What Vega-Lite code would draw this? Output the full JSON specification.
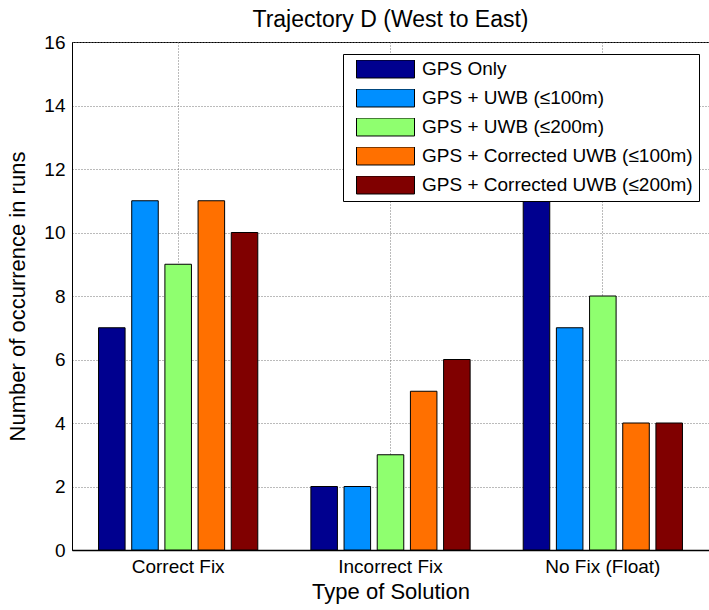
{
  "$schema": "https://vega.github.io/schema/vega-lite/v6.json",
  "width": 637,
  "height": 508,
  "autosize": {"type": "none"},
  "padding": {"left": 72, "top": 42, "right": 0, "bottom": 60},
  "background": "white",
  "title": {
    "text": "Trajectory D (West to East)",
    "fontSize": 23,
    "fontWeight": "normal",
    "font": "Liberation Sans",
    "color": "black",
    "offset": 1,
    "anchor": "middle"
  },
  "data": {
    "values": [
      {"solution": "Correct Fix", "series": "GPS Only", "count": 7},
      {"solution": "Correct Fix", "series": "GPS + UWB (≤100m)", "count": 11},
      {"solution": "Correct Fix", "series": "GPS + UWB (≤200m)", "count": 9},
      {"solution": "Correct Fix", "series": "GPS + Corrected UWB (≤100m)", "count": 11},
      {"solution": "Correct Fix", "series": "GPS + Corrected UWB (≤200m)", "count": 10},
      {"solution": "Incorrect Fix", "series": "GPS Only", "count": 2},
      {"solution": "Incorrect Fix", "series": "GPS + UWB (≤100m)", "count": 2},
      {"solution": "Incorrect Fix", "series": "GPS + UWB (≤200m)", "count": 3},
      {"solution": "Incorrect Fix", "series": "GPS + Corrected UWB (≤100m)", "count": 5},
      {"solution": "Incorrect Fix", "series": "GPS + Corrected UWB (≤200m)", "count": 6},
      {"solution": "No Fix (Float)", "series": "GPS Only", "count": 11},
      {"solution": "No Fix (Float)", "series": "GPS + UWB (≤100m)", "count": 7},
      {"solution": "No Fix (Float)", "series": "GPS + UWB (≤200m)", "count": 8},
      {"solution": "No Fix (Float)", "series": "GPS + Corrected UWB (≤100m)", "count": 4},
      {"solution": "No Fix (Float)", "series": "GPS + Corrected UWB (≤200m)", "count": 4}
    ]
  },
  "mark": {"type": "bar", "stroke": "black", "strokeWidth": 1, "opacity": 1},
  "encoding": {
    "x": {
      "field": "solution",
      "type": "nominal",
      "sort": ["Correct Fix", "Incorrect Fix", "No Fix (Float)"],
      "scale": {"paddingInner": 0.25, "paddingOuter": 0.125},
      "axis": {
        "title": "Type of Solution",
        "titleFontSize": 22,
        "titleFontWeight": "normal",
        "titleFont": "Liberation Sans",
        "titleColor": "black",
        "titlePadding": 5,
        "labelAngle": 0,
        "labelFontSize": 19,
        "labelFont": "Liberation Sans",
        "labelColor": "black",
        "labelPadding": 7,
        "grid": true,
        "bandPosition": 0.5,
        "gridColor": "#777777",
        "gridDash": [1, 2],
        "gridWidth": 1,
        "ticks": false,
        "domainColor": "black",
        "domainWidth": 1.5
      }
    },
    "xOffset": {
      "field": "series",
      "type": "nominal",
      "sort": ["GPS Only", "GPS + UWB (≤100m)", "GPS + UWB (≤200m)", "GPS + Corrected UWB (≤100m)", "GPS + Corrected UWB (≤200m)"],
      "scale": {"paddingInner": 0.2, "paddingOuter": 0}
    },
    "y": {
      "field": "count",
      "type": "quantitative",
      "scale": {"domain": [0, 16], "nice": false},
      "axis": {
        "title": "Number of occurrence in runs",
        "titleFontSize": 22,
        "titleFontWeight": "normal",
        "titleFont": "Liberation Sans",
        "titleColor": "black",
        "titlePadding": 14,
        "values": [0, 2, 4, 6, 8, 10, 12, 14, 16],
        "labelFontSize": 19,
        "labelFont": "Liberation Sans",
        "labelColor": "black",
        "labelPadding": 7,
        "ticks": false,
        "grid": true,
        "gridColor": "#777777",
        "gridDash": [1, 2],
        "gridWidth": 1,
        "domainColor": "black",
        "domainWidth": 1
      }
    },
    "color": {
      "field": "series",
      "type": "nominal",
      "scale": {
        "domain": ["GPS Only", "GPS + UWB (≤100m)", "GPS + UWB (≤200m)", "GPS + Corrected UWB (≤100m)", "GPS + Corrected UWB (≤200m)"],
        "range": ["#00008F", "#008FFF", "#8FFF6F", "#FF7000", "#800000"]
      },
      "legend": {
        "title": null,
        "orient": "none",
        "legendX": 271,
        "legendY": 12,
        "strokeColor": "black",
        "fillColor": "white",
        "padding": 6,
        "symbolOffset": 7,
        "symbolType": "M-1,-0.31H1V0.31H-1Z",
        "symbolSize": 3364,
        "symbolStrokeColor": "black",
        "symbolStrokeWidth": 1,
        "symbolOpacity": 1,
        "clipHeight": 18,
        "rowPadding": 10,
        "labelFontSize": 19,
        "labelFont": "Liberation Sans",
        "labelColor": "black",
        "labelOffset": 7,
        "labelLimit": 400
      }
    }
  },
  "config": {
    "view": {"stroke": "black", "strokeWidth": 1}
  }
}
